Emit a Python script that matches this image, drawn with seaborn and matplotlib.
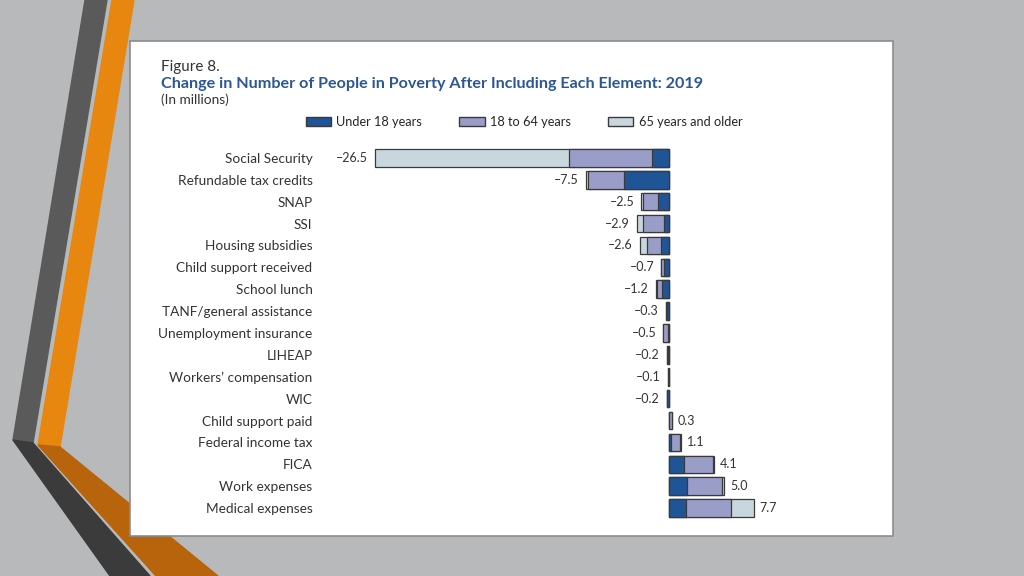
import numpy as np
import pandas as pd
import seaborn as sns
import matplotlib.pyplot as plt
from matplotlib.patches import Polygon, Rectangle, Patch

sns.set_theme(style="white")
plt.rcParams['font.family'] = ['Lato', 'DejaVu Sans']

# data (millions of people)
elements = ["Social Security", "Refundable tax credits", "SNAP", "SSI",
            "Housing subsidies", "Child support received", "School lunch",
            "TANF/general assistance", "Unemployment insurance", "LIHEAP",
            "Workers\u2019 compensation", "WIC", "Child support paid",
            "Federal income tax", "FICA", "Work expenses", "Medical expenses"]
under18 = [-1.5, -4.0, -1.0, -0.4, -0.7, -0.4, -0.6, -0.2, -0.1, -0.1,
           0.0, -0.2, 0.05, 0.2, 1.4, 1.6, 1.5]
age18_64 = [-7.5, -3.3, -1.3, -1.9, -1.3, -0.3, -0.5, -0.1, -0.4, -0.05,
            -0.1, 0.0, 0.25, 0.8, 2.6, 3.2, 4.1]
age65up = [-17.5, -0.2, -0.2, -0.6, -0.6, 0.0, -0.1, 0.0, 0.0, -0.05,
           0.0, 0.0, 0.0, 0.1, 0.1, 0.2, 2.1]
totals = [-26.5, -7.5, -2.5, -2.9, -2.6, -0.7, -1.2, -0.3, -0.5, -0.2,
          -0.1, -0.2, 0.3, 1.1, 4.1, 5.0, 7.7]

c_u18 = "#1f5496"
c_mid = "#9b9dc9"
c_old = "#c8d7dd"
edge = "#3a3a3a"

df = pd.DataFrame({"element": elements, "u18": under18,
                   "mid": age18_64, "old": age65up})
df["c1"] = df["u18"]
df["c2"] = df["u18"] + df["mid"]
df["c3"] = df["c2"] + df["old"]

W, H = 1024, 576
fig = plt.figure(figsize=(W / 100, H / 100), dpi=100, facecolor="#b7b9ba")


def px(pts):
    return [(x / W, 1 - y / H) for x, y in pts]


# slide decoration
deco = [([(85, 0), (107, 0), (33, 443), (13, 440)], "#5a5a5a"),
        ([(13, 440), (33, 443), (150, 576), (110, 576)], "#3b3b3b"),
        ([(112, 0), (134, 0), (60, 447), (38, 445)], "#e8870f"),
        ([(38, 445), (60, 447), (218, 576), (156, 576)], "#b8640d")]
for pts, col in deco:
    fig.add_artist(Polygon(px(pts), closed=True, color=col, zorder=-3,
                           transform=fig.transFigure))

# white panel
fig.add_artist(Rectangle((130 / W, 1 - 536 / H), 763 / W, 495 / H,
                         facecolor="white", edgecolor="#8c8c8c", lw=1.2,
                         zorder=-2, transform=fig.transFigure))

ax = fig.add_axes([336 / W, 1 - 519 / H, 466 / W, 372 / H])
ax.patch.set_alpha(0)

sns.barplot(data=df, x="c3", y="element", color=c_old, edgecolor=edge,
            linewidth=0.9, width=0.8, saturation=1, ax=ax)
sns.barplot(data=df, x="c2", y="element", color=c_mid, edgecolor=edge,
            linewidth=0.9, width=0.8, saturation=1, ax=ax)
sns.barplot(data=df, x="c1", y="element", color=c_u18, edgecolor=edge,
            linewidth=0.9, width=0.8, saturation=1, ax=ax)

for i, t in enumerate(totals):
    lab = f"{t:.1f}".replace("-", "\u2013")
    end = df["c3"][i]
    if t < 0:
        ax.annotate(lab, (end, i), xytext=(-5, 0), textcoords="offset points",
                    ha="right", va="center", fontsize=9, color="#333333")
    else:
        ax.annotate(lab, (end, i), xytext=(4, 0), textcoords="offset points",
                    ha="left", va="center", fontsize=9, color="#333333")

ax.set_xlim(-30, 12)
ax.set_xlabel("")
ax.set_ylabel("")
ax.set_xticks([])
sns.despine(ax=ax, left=True, bottom=True)
ax.tick_params(axis="y", length=0, pad=17, labelsize=9.8, labelcolor="#333333")

fig.text(161 / W, 1 - 67 / H, "Figure 8.", fontsize=11, color="#333333",
         va="center")
fig.text(161 / W, 1 - 84 / H,
         "Change in Number of People in Poverty After Including Each Element: 2019",
         fontsize=11.6, fontweight="bold", color="#2b5797", va="center")
fig.text(161 / W, 1 - 100 / H, "(In millions)", fontsize=9.8, color="#333333",
         va="center")

handles = [Patch(facecolor=c_u18, edgecolor=edge, label="Under 18 years"),
           Patch(facecolor=c_mid, edgecolor=edge, label="18 to 64 years"),
           Patch(facecolor=c_old, edgecolor=edge, label="65 years and older")]
fig.legend(handles=handles, ncol=3, frameon=False, loc="center",
           bbox_to_anchor=(524 / W, 1 - 122 / H), fontsize=9.2,
           handlelength=2.0, handleheight=0.8, handletextpad=0.4,
           columnspacing=2.9)

fig.savefig("out.png", dpi=100, facecolor=fig.get_facecolor())
